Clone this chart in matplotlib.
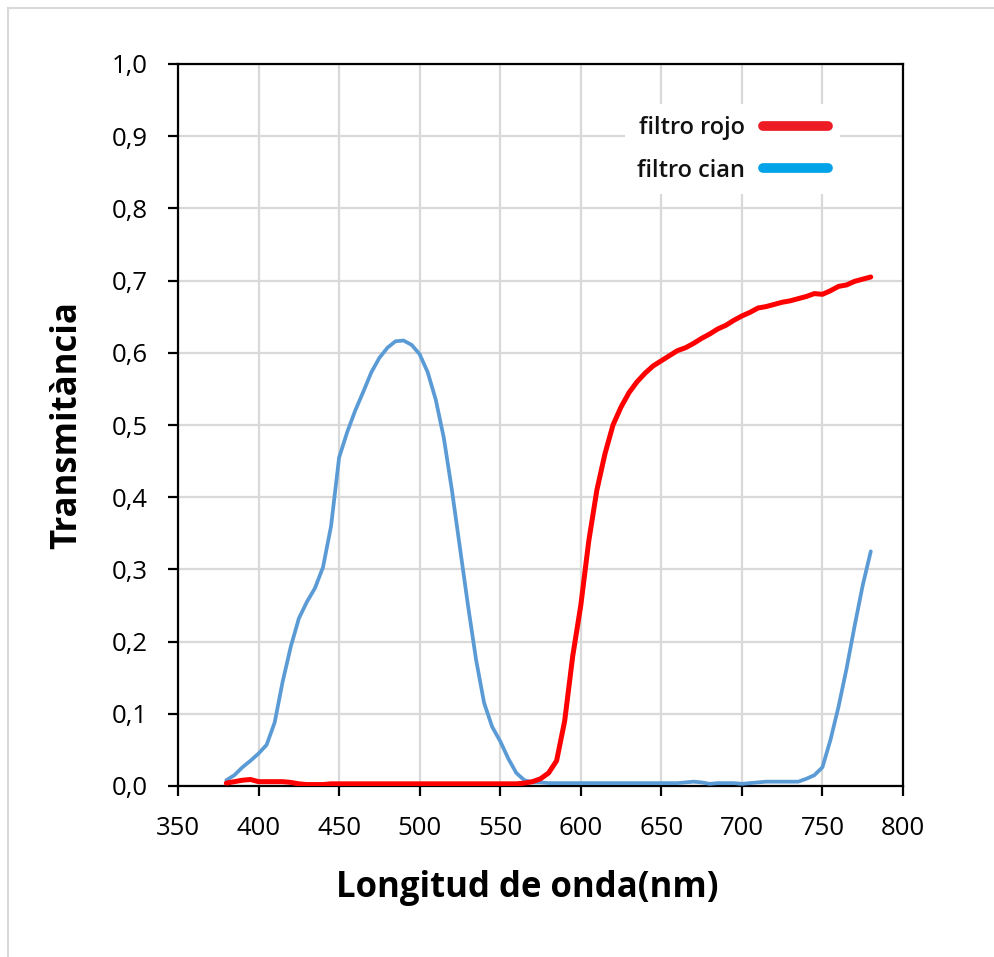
import matplotlib
matplotlib.use('Agg')
import matplotlib.pyplot as plt
from matplotlib.lines import Line2D

plt.rcParams['font.family'] = ['Open Sans', 'DejaVu Sans']

# ── data (5 nm steps, 380..780 nm) ────
wavelength = list(range(380, 785, 5))

cian = [0.008, 0.015, 0.026, 0.035, 0.045, 0.057, 0.088, 0.145, 0.193, 0.232,
        0.255, 0.274, 0.303, 0.360, 0.455, 0.490, 0.520, 0.546, 0.573, 0.593,
        0.607, 0.616, 0.617, 0.611, 0.598, 0.573, 0.535, 0.482, 0.410, 0.330,
        0.250, 0.175, 0.115, 0.082, 0.062, 0.038, 0.018, 0.008, 0.005, 0.005,
        0.004, 0.004, 0.004, 0.004, 0.004, 0.004, 0.004, 0.004, 0.004, 0.004,
        0.004, 0.004, 0.004, 0.004, 0.004, 0.004, 0.004, 0.005, 0.006, 0.005,
        0.003, 0.004, 0.004, 0.004, 0.003, 0.004, 0.005, 0.006, 0.006, 0.006,
        0.006, 0.006, 0.010, 0.015, 0.026, 0.064, 0.110, 0.163, 0.222, 0.278,
        0.325]

rojo = [0.004, 0.006, 0.008, 0.009, 0.006, 0.006, 0.006, 0.006, 0.005, 0.003,
        0.002, 0.002, 0.002, 0.003, 0.003, 0.003, 0.003, 0.003, 0.003, 0.003,
        0.003, 0.003, 0.003, 0.003, 0.003, 0.003, 0.003, 0.003, 0.003, 0.003,
        0.003, 0.003, 0.003, 0.003, 0.003, 0.003, 0.003, 0.004, 0.006, 0.010,
        0.018, 0.035, 0.090, 0.180, 0.250, 0.340, 0.410, 0.460, 0.500, 0.525,
        0.545, 0.560, 0.572, 0.582, 0.589, 0.596, 0.603, 0.607, 0.613, 0.620,
        0.626, 0.633, 0.638, 0.645, 0.651, 0.656, 0.662, 0.664, 0.667, 0.670,
        0.672, 0.675, 0.678, 0.682, 0.681, 0.686, 0.692, 0.694, 0.699, 0.702,
        0.705]

x_ticks = [350, 400, 450, 500, 550, 600, 650, 700, 750, 800]
y_ticks = [0.0, 0.1, 0.2, 0.3, 0.4, 0.5, 0.6, 0.7, 0.8, 0.9, 1.0]
y_tick_labels = [f'{v:.1f}'.replace('.', ',') for v in y_ticks]

C_RED = '#FF0000'
C_BLUE = '#5B9BD5'
C_GRID = '#D9D9D9'

W, H = 994, 957
fig = plt.figure(figsize=(W / 100, H / 100), dpi=100)
fig.patch.set_facecolor('white')
ax = fig.add_axes([178 / W, 1 - 786 / H, 725 / W, 722 / H])

ax.plot(wavelength, cian, color=C_BLUE, lw=2.7, solid_joinstyle='round',
        solid_capstyle='round', zorder=3)
ax.plot(wavelength, rojo, color=C_RED, lw=3.6, solid_joinstyle='round',
        solid_capstyle='round', zorder=4)

ax.set_xlim(350, 800)
ax.set_ylim(0, 1.0)
ax.set_xticks(x_ticks)
ax.set_yticks(y_ticks)
ax.set_yticklabels(y_tick_labels)
ax.grid(True, color=C_GRID, lw=1.6, zorder=0)
ax.set_axisbelow(True)

for s in ax.spines.values():
    s.set_linewidth(1.6)
    s.set_color('black')
ax.tick_params(direction='out', length=7.5, width=1.6, labelsize=18.5,
               colors='black')
ax.tick_params(axis='x', pad=14)
ax.tick_params(axis='y', pad=14)

ax.set_xlabel('Longitud de onda(nm)', fontsize=25, fontweight='bold', labelpad=21)
ax.xaxis.label.set_x(0.482)
ax.set_ylabel('Transmitància', fontsize=25, fontweight='bold', labelpad=19)

# legend: text on the left, thick line on the right
handles = [Line2D([], [], color='#ED1C24', lw=7, solid_capstyle='round'),
           Line2D([], [], color='#00A2E8', lw=7, solid_capstyle='round')]
leg = ax.legend(handles, ['filtro rojo', 'filtro cian'], markerfirst=False,
                loc='upper left', bbox_to_anchor=(0.617, 0.944),
                handlelength=2.75, handletextpad=0.75,
                labelspacing=0.78, borderpad=0.5, borderaxespad=0,
                frameon=True, fancybox=False,
                prop={'size': 17, 'weight': 'semibold'})
leg.get_frame().set_edgecolor('none')
leg.get_frame().set_facecolor('white')
leg.get_frame().set_alpha(1)
for t in leg.get_texts():
    t.set_color('#111111')

# outer chart border (light grey, left and top)
bx, by = 7.5 / W, 1 - 8 / H
fig.add_artist(Line2D([bx, bx], [0, by], color=C_GRID, lw=1.5))
fig.add_artist(Line2D([bx, 1], [by, by], color=C_GRID, lw=1.5))

plt.savefig('out.png', dpi=100, facecolor='white')
